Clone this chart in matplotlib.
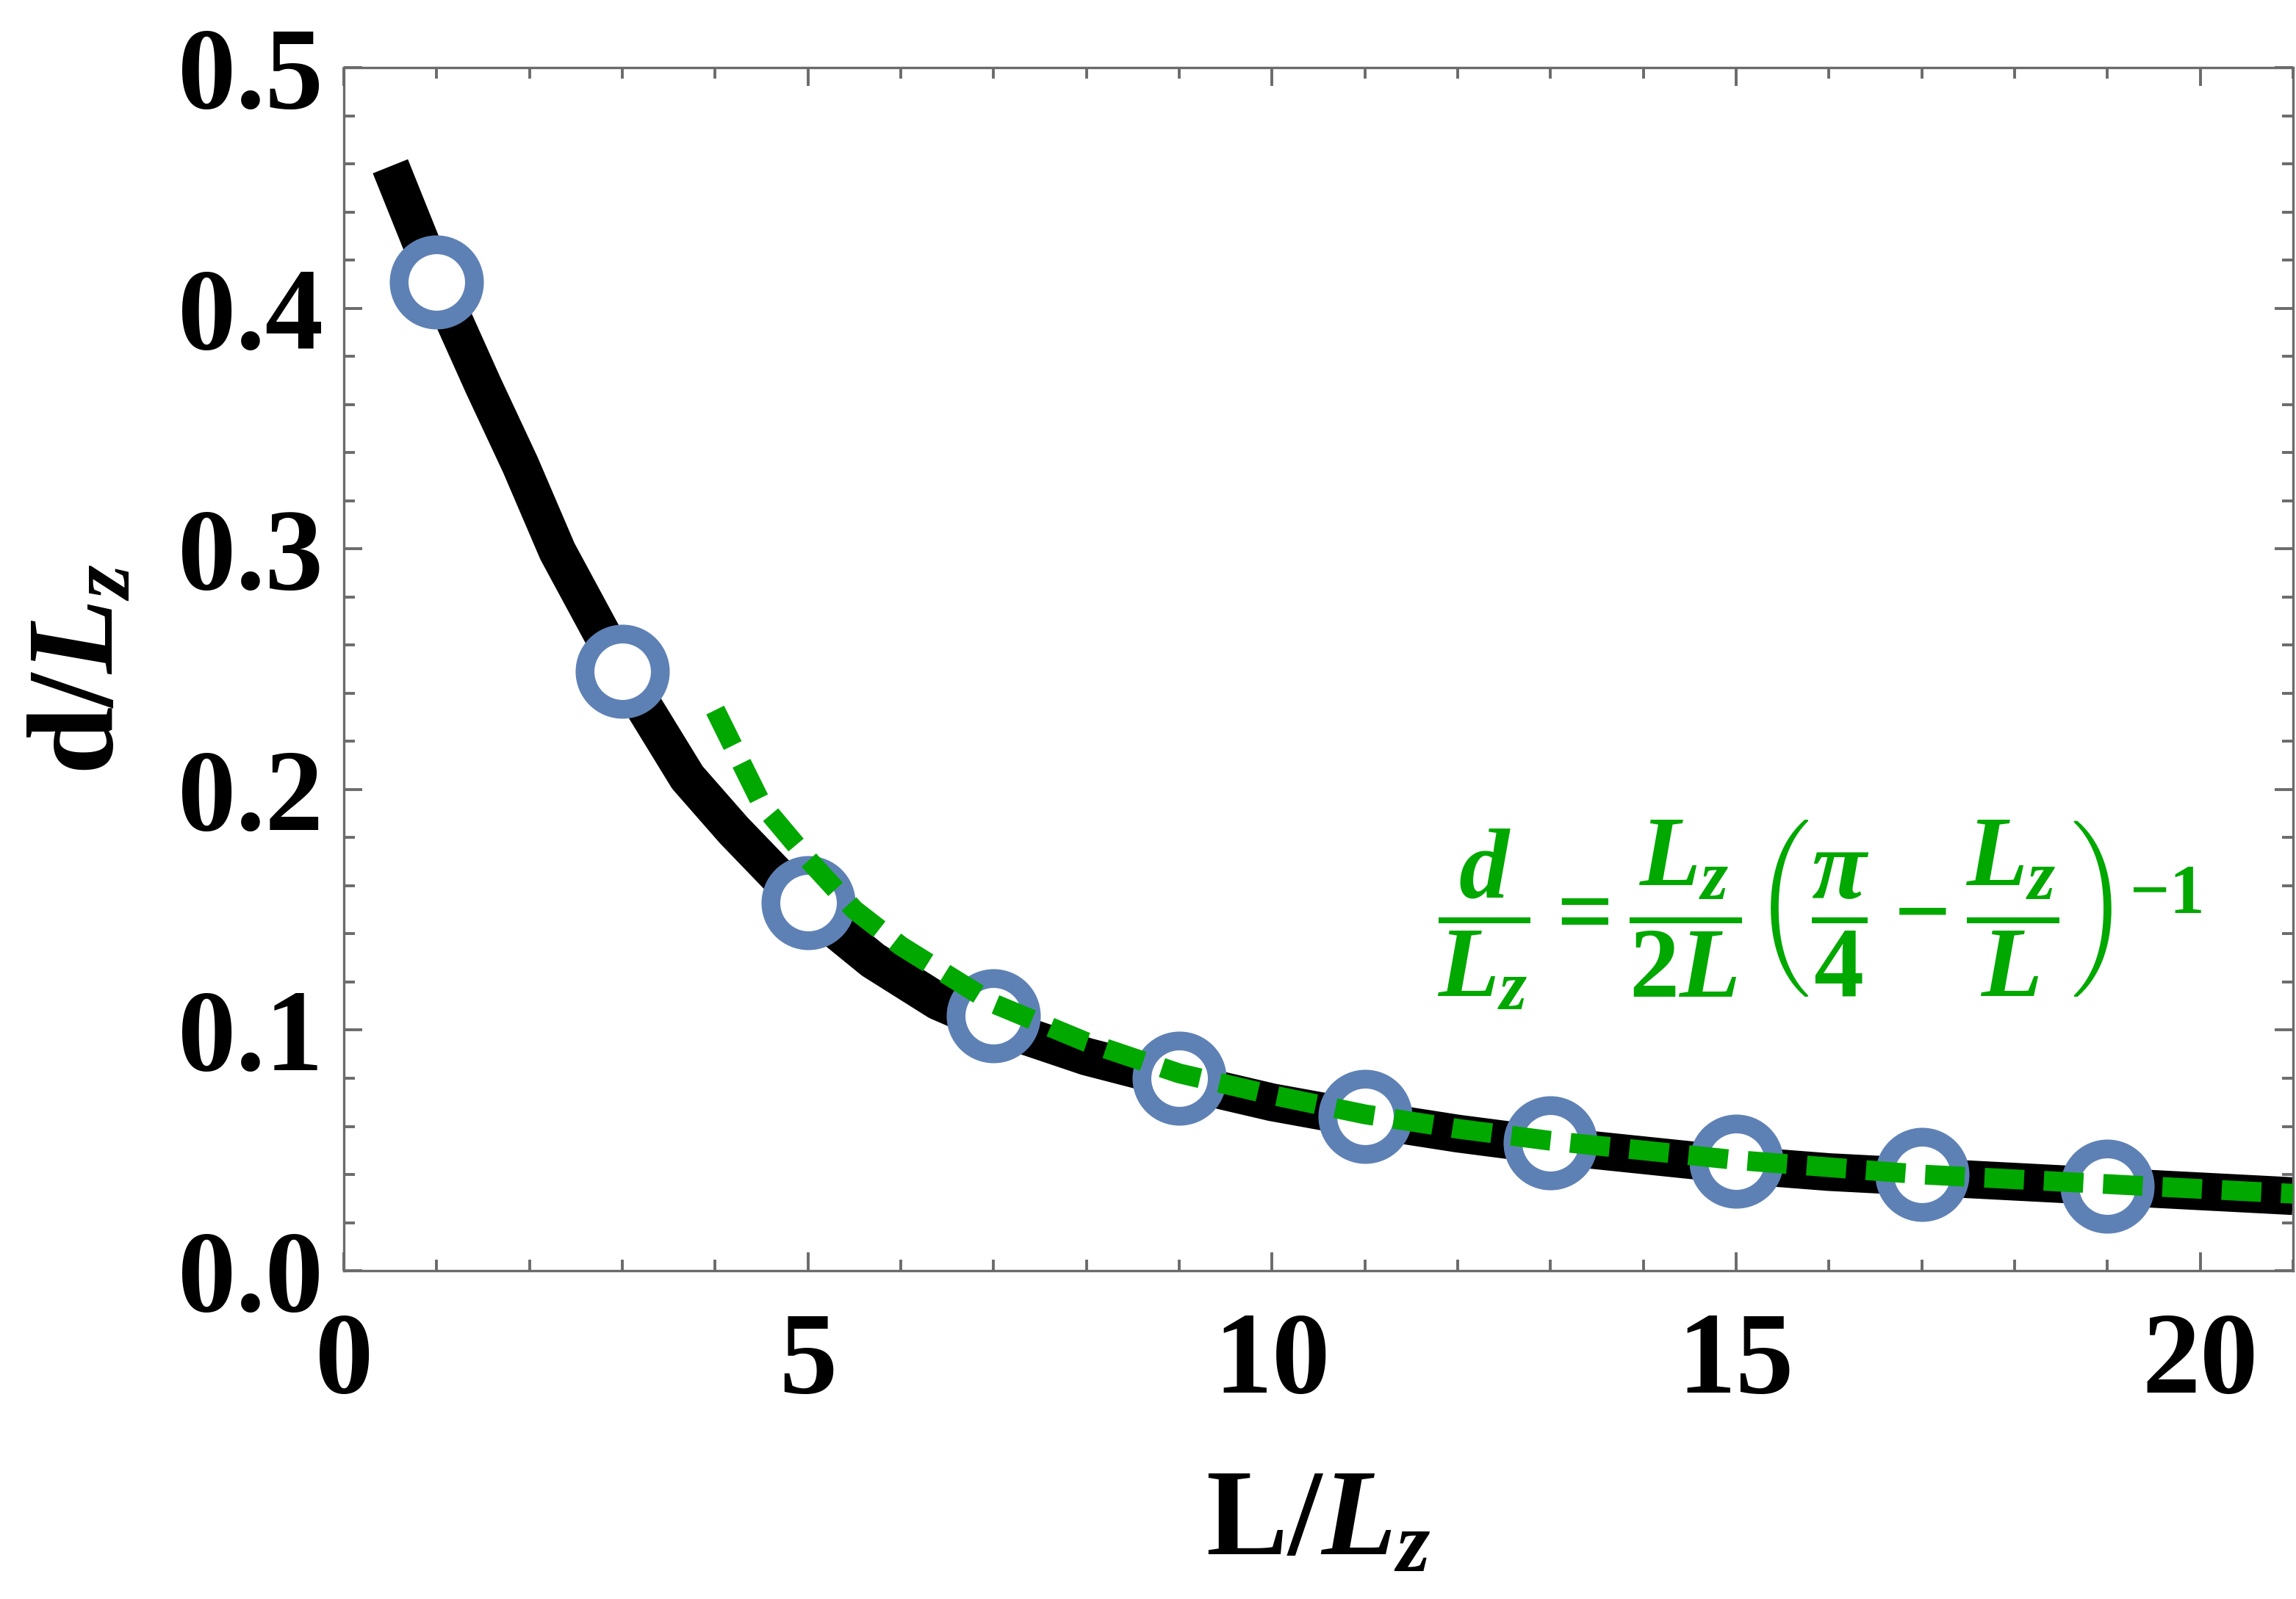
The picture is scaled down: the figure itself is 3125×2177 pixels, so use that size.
import matplotlib
matplotlib.use('Agg')
import matplotlib.pyplot as plt
from matplotlib.ticker import MultipleLocator

plt.rcParams['font.family'] = ['Liberation Serif', 'DejaVu Serif']
plt.rcParams['font.weight'] = 'bold'
plt.rcParams['mathtext.fontset'] = 'custom'
plt.rcParams['mathtext.rm'] = 'Liberation Serif:bold'
plt.rcParams['mathtext.it'] = 'Liberation Serif:italic:bold'
plt.rcParams['mathtext.bf'] = 'Liberation Serif:bold'

# numerical curve d/Lz vs L/Lz
curve_x = [0.5, 1.0, 1.5, 1.9, 2.3, 3.0, 3.7, 4.2, 5.0, 5.7, 6.4, 7.0, 8.0, 9.0, 10, 11, 12,
           13, 14, 15, 16, 17, 18, 19, 20, 21]
curve_y = [0.459, 0.411, 0.368, 0.335, 0.299, 0.249, 0.205, 0.183, 0.151, 0.129, 0.112, 0.102,
           0.089, 0.079, 0.070, 0.063, 0.057, 0.052, 0.048, 0.044, 0.041, 0.039, 0.037, 0.035,
           0.033, 0.031]

# sampled points (open circles)
pts_x = [1, 3, 5, 7, 9, 11, 13, 15, 17, 19]
pts_y = [0.411, 0.249, 0.153, 0.106, 0.080, 0.064, 0.053, 0.0455, 0.040, 0.035]

# approximation (green dashed)
approx_x = [4.0, 4.5, 5.0, 5.5, 6, 7, 8, 9, 10, 11, 12, 13, 14, 15, 16, 17, 18, 19, 20, 21]
approx_y = [0.233, 0.194, 0.171, 0.150, 0.135, 0.111, 0.095, 0.082, 0.073, 0.065, 0.059,
            0.054, 0.050, 0.046, 0.043, 0.040, 0.038, 0.036, 0.034, 0.032]

fig = plt.figure(figsize=(15.625, 10.885), dpi=200)
ax = fig.add_axes([0.1498, 0.2053, 0.8489, 0.7524])

ax.plot(curve_x, curve_y, color='black', lw=18.5, solid_capstyle='butt',
        solid_joinstyle='round', zorder=2)
ax.plot(pts_x, pts_y, ls='none', marker='o', ms=36.9, mew=9.2,
        mfc='white', mec='#5E81B5', zorder=3)
ax.plot(approx_x, approx_y, color='#00A800', lw=9.7, ls=(0, (2.0, 1.0)),
        dash_capstyle='butt', zorder=4)

ax.text(15.9, 0.148,
        r'$\dfrac{d}{L_z}=\dfrac{L_z}{2L}\left(\dfrac{\pi}{4}-\dfrac{L_z}{L}\right)^{-1}$',
        color='#00A800', fontsize=49, ha='center', va='center')

ax.set_xlim(0, 21)
ax.set_ylim(0, 0.5)
ax.xaxis.set_major_locator(MultipleLocator(5))
ax.xaxis.set_minor_locator(MultipleLocator(1))
ax.yaxis.set_major_locator(MultipleLocator(0.1))
ax.yaxis.set_minor_locator(MultipleLocator(0.02))
ax.yaxis.set_major_formatter(matplotlib.ticker.FormatStrFormatter('%.1f'))

grey = '#6b6b6b'
for s in ax.spines.values():
    s.set_color(grey)
    s.set_linewidth(1.2)
ax.tick_params(which='both', direction='in', top=True, right=True, color=grey, width=1.4,
               labelsize=57)
ax.tick_params(which='major', length=9)
ax.tick_params(which='minor', length=5.4)
ax.tick_params(axis='x', pad=20)
ax.tick_params(axis='y', pad=10)

ax.set_xlabel(r'$\mathrm{L}/L_z$', fontsize=60)
ax.set_ylabel(r'$\mathrm{d}/L_z$', fontsize=60)
ax.xaxis.set_label_coords(0.5, -0.165)
ax.yaxis.set_label_coords(-0.105, 0.5)

fig.savefig('out.png', dpi=200)
